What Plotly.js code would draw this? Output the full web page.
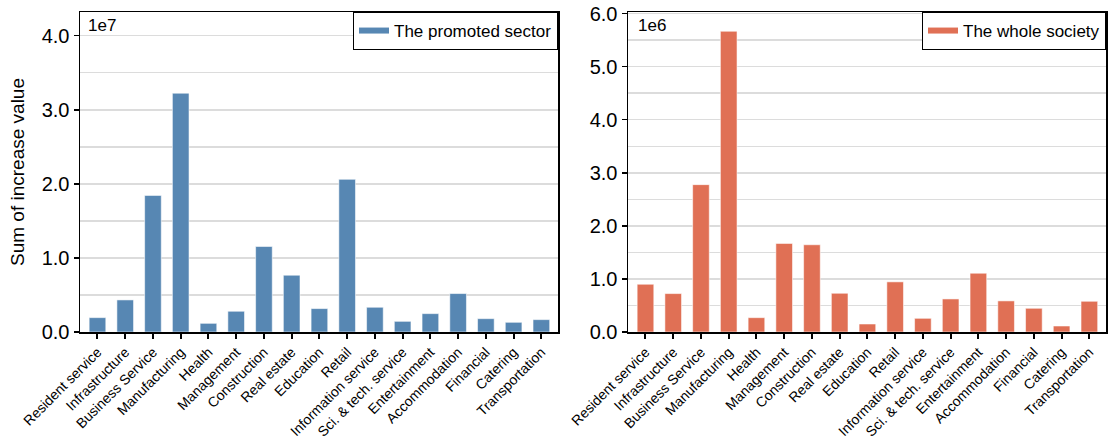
<!DOCTYPE html>
<html>
<head>
<meta charset="utf-8">
<script src="https://cdn.plot.ly/plotly-3.0.1.min.js"></script>
<style>html,body{margin:0;padding:0;background:#fff;}#chart{width:1108px;height:440px;}</style>
</head>
<body>
<div id="chart"></div>
<script>
const categories = ["Resident service","Infrastructure","Business Service","Manufacturing","Health","Management","Construction","Real estate","Education","Retail","Information service","Sci. & tech. service","Entertainment","Accommodation","Financial","Catering","Transportation"];
const promotedSector = [1.94e6,4.33e6,18.44e6,32.24e6,1.17e6,2.80e6,11.54e6,7.67e6,3.16e6,20.61e6,3.34e6,1.44e6,2.48e6,5.19e6,1.80e6,1.31e6,1.67e6];
const wholeSociety = [0.90e6,0.724e6,2.777e6,5.667e6,0.27e6,1.669e6,1.644e6,0.73e6,0.151e6,0.945e6,0.258e6,0.623e6,1.108e6,0.586e6,0.447e6,0.113e6,0.579e6];
const leftTickVals = [0,1e7,2e7,3e7,4e7];
const leftTickText = ["0.0","1.0","2.0","3.0","4.0"];
const rightTickVals = [0,1e6,2e6,3e6,4e6,5e6,6e6];
const rightTickText = ["0.0","1.0","2.0","3.0","4.0","5.0","6.0"];

const blue = "#5787b3";
const orange = "#e07055";
const W = 1108, H = 440;
const font = "Liberation Sans, Arial, sans-serif";

const idx = categories.map((_, i) => i);

const traces = [
  {type:"bar", x: idx, y: promotedSector, xaxis:"x", yaxis:"y", width:0.6,
   marker:{color:blue, line:{color:"rgba(255,255,255,0.55)", width:1}}, showlegend:false, hoverinfo:"x+y"},
  {type:"scatter", mode:"lines", x:[null], y:[null], xaxis:"x", yaxis:"y", name:"The promoted sector",
   line:{color:blue, width:6}, legend:"legend"},
  {type:"bar", x: idx, y: wholeSociety, xaxis:"x2", yaxis:"y2", width:0.6,
   marker:{color:orange, line:{color:"rgba(255,255,255,0.55)", width:1}}, showlegend:false, hoverinfo:"x+y"},
  {type:"scatter", mode:"lines", x:[null], y:[null], xaxis:"x2", yaxis:"y2", name:"The whole society",
   line:{color:orange, width:6}, legend:"legend2"}
];

const yDom = [(H-332)/H, (H-12)/H];
const xAxisCommon = {
  range:[-0.63,16.6], tickmode:"array", tickvals: idx, ticktext: categories, tickangle:-45,
  ticks:"outside", ticklen:5, tickwidth:2, tickcolor:"#000",
  showline:true, linecolor:"#000", linewidth:1.5, mirror:true, showgrid:false, zeroline:false,
  tickfont:{family:font, size:14, color:"#000"}, anchor:"free"
};
const yAxisCommon = {
  domain:yDom, tickmode:"array", ticks:"outside", ticklen:5, tickwidth:1.5, tickcolor:"#000",
  showline:true, linecolor:"#000", linewidth:1.5, mirror:true,
  showgrid:true, gridcolor:"#dcdcdc", gridwidth:1.5, zeroline:false,
  tickfont:{family:font, size:20, color:"#000"},
  minor:{tickmode:"linear", tick0:0, showgrid:true, gridcolor:"#dcdcdc", gridwidth:1.5, ticks:""}
};

const layout = {
  width:W, height:H, margin:{l:0,r:0,t:0,b:0}, paper_bgcolor:"#fff", plot_bgcolor:"#fff",
  bargap:0, showlegend:true,
  xaxis: Object.assign({}, xAxisCommon, {domain:[80/W, 558/W], anchor:"y"}),
  xaxis2: Object.assign({}, xAxisCommon, {domain:[628/W, 1106/W], anchor:"y2"}),
  yaxis: Object.assign({}, yAxisCommon, {anchor:"x", range:[0, 4.32e7], tickvals:leftTickVals, ticktext:leftTickText,
    minor:Object.assign({}, yAxisCommon.minor, {dtick:5e6})}),
  yaxis2: Object.assign({}, yAxisCommon, {anchor:"x2", range:[0, 6.03e6], tickvals:rightTickVals, ticktext:rightTickText,
    minor:Object.assign({}, yAxisCommon.minor, {dtick:5e5})}),
  legend:{x:558/W, xanchor:"right", y:1-12/H, yanchor:"top", xref:"paper", yref:"paper",
    bgcolor:"#fff", bordercolor:"#000", borderwidth:1, font:{family:font, size:17, color:"#000"}, itemwidth:30},
  legend2:{x:1106/W, xanchor:"right", y:1-12/H, yanchor:"top", xref:"paper", yref:"paper",
    bgcolor:"#fff", bordercolor:"#000", borderwidth:1, font:{family:font, size:17, color:"#000"}, itemwidth:30},
  annotations:[
    {text:"Sum of increase value", xref:"paper", yref:"paper", x:18/W, y:1-172/H, textangle:-90,
     showarrow:false, font:{family:font, size:19, color:"#000"}, xanchor:"center", yanchor:"middle"},
    {text:"1e7", xref:"paper", yref:"paper", x:86/W, y:1-26/H, showarrow:false, xanchor:"left", yanchor:"middle",
     font:{family:font, size:17, color:"#000"}},
    {text:"1e6", xref:"paper", yref:"paper", x:636/W, y:1-26/H, showarrow:false, xanchor:"left", yanchor:"middle",
     font:{family:font, size:17, color:"#000"}}
  ]
};

Plotly.newPlot("chart", traces, layout, {staticPlot:true, displayModeBar:false});
</script>
</body>
</html>
